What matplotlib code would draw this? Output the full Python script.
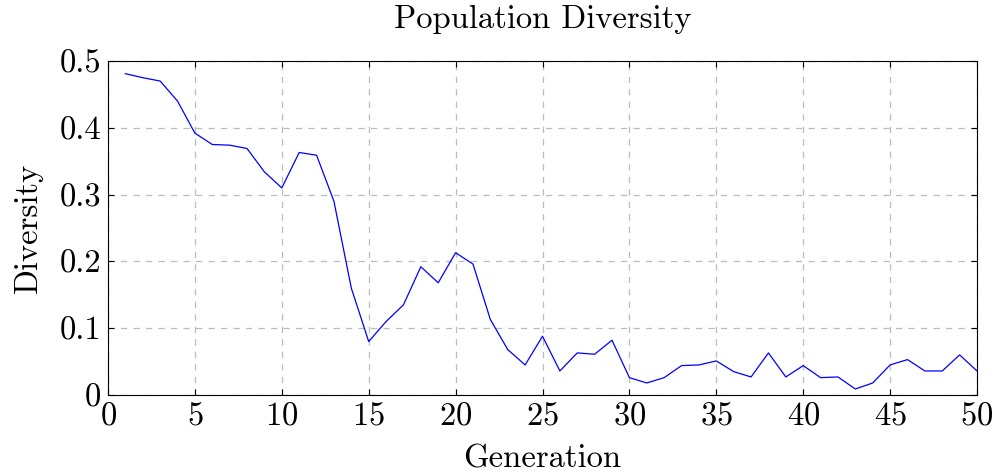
import matplotlib
matplotlib.use("Agg")
import matplotlib.pyplot as plt

plt.rcParams['font.family'] = 'serif'
plt.rcParams['font.serif'] = ['cmr10']
plt.rcParams['mathtext.fontset'] = 'cm'
plt.rcParams['axes.formatter.use_mathtext'] = True

generation = list(range(1, 51))
diversity = [0.481, 0.475, 0.470, 0.440, 0.392, 0.375, 0.374, 0.369, 0.334, 0.310,
             0.363, 0.359, 0.290, 0.160, 0.080, 0.110, 0.135, 0.192, 0.168, 0.213,
             0.196, 0.113, 0.068, 0.045, 0.088, 0.036, 0.063, 0.061, 0.082, 0.026,
             0.018, 0.026, 0.044, 0.045, 0.051, 0.035, 0.027, 0.063, 0.027, 0.044,
             0.026, 0.027, 0.009, 0.018, 0.045, 0.053, 0.036, 0.036, 0.060, 0.036]

xticks = [0, 5, 10, 15, 20, 25, 30, 35, 40, 45, 50]
yticks = [0, 0.1, 0.2, 0.3, 0.4, 0.5]
ytick_labels = ['0', '0.1', '0.2', '0.3', '0.4', '0.5']

fig = plt.figure(figsize=(9.96, 4.74), dpi=100)
ax = fig.add_axes([108 / 996, 1 - 395 / 474, (977 - 108) / 996, (395 - 61) / 474])

ax.plot(generation, diversity, color='blue', linewidth=0.9)

ax.set_xlim(0, 50)
ax.set_ylim(0, 0.5)
ax.set_xticks(xticks)
ax.set_yticks(yticks)
ax.set_yticklabels(ytick_labels)
ax.tick_params(direction='in', top=True, right=True, length=4, width=0.8,
               labelsize=23.5, pad=5)
ax.grid(True, color='#bbbbbb', linestyle=(0, (5, 5)), linewidth=0.9)
for s in ax.spines.values():
    s.set_linewidth(0.8)

ax.set_title('Population Diversity', fontsize=23.5, pad=24)
ax.set_xlabel('Generation', fontsize=23.5, labelpad=10)
ax.set_ylabel('Diversity', fontsize=23.5, labelpad=12)

fig.savefig('out.png', dpi=100)
